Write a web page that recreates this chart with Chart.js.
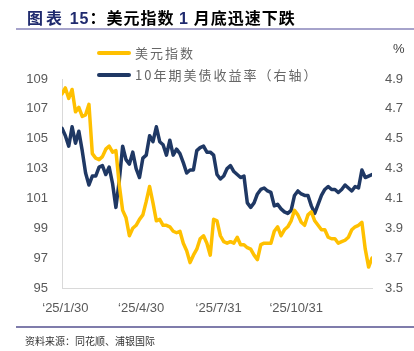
<!DOCTYPE html>
<html>
<head>
<meta charset="utf-8">
<script src="https://cdn.jsdelivr.net/npm/chart.js@4.4.1/dist/chart.umd.min.js"></script>
<style>
  html, body { margin: 0; padding: 0; background: #fff; }
  #wrap { position: relative; width: 414px; height: 351px; overflow: hidden; font-family: "Noto Sans CJK SC", "Liberation Sans", sans-serif; }
  #chartBox { position: absolute; left: 0; top: 0; width: 414px; height: 351px; }
  .title { position: absolute; left: 27px; top: 5px; font-size: 16px; font-weight: bold; color: #000; white-space: nowrap; letter-spacing: 1px; }
  .title .tag { color: #1f2a6e; letter-spacing: 3px; }
  .title .num { color: #1f2a6e; font-family: "Liberation Sans", sans-serif; }
  .rule { position: absolute; left: 16px; width: 398px; height: 2px; }
  .legend { position: absolute; left: 97px; font-size: 13px; color: #666; white-space: nowrap; letter-spacing: 2px; }
  .legend i { display: inline-block; width: 34px; height: 4px; border-radius: 2px; vertical-align: middle; margin-right: 4px; position: relative; top: -1px; }
  .unit { position: absolute; left: 393px; top: 41px; font-size: 13px; color: #404040; font-family: "Liberation Sans", sans-serif; }
  .source { position: absolute; left: 25px; top: 333px; font-size: 10px; color: #333; white-space: nowrap; }
</style>
</head>
<body>
<div id="wrap">
  <div id="chartBox"><canvas id="lineChart"></canvas></div>
  <div class="title"><span class="tag">图表</span> <span class="num">15</span>：美元指数 <span class="num">1</span> 月底迅速下跌</div>
  <div class="rule" style="top:28px;background:#a6a3cb;"></div>
  <div class="legend" style="top:43px;"><i style="background:#ffc000"></i>美元指数</div>
  <div class="legend" style="top:65px;"><i style="background:#1f3864"></i>10年期美债收益率（右轴）</div>
  <div class="unit">%</div>
  <div class="rule" style="top:326px;background:#7f7cab;height:1.5px;"></div>
  <div class="source">资料来源：同花顺、浦银国际</div>
</div>
<script>
// sample dates (every 4 days)
const dates = [
  "2025-01-26", "2025-01-30", "2025-02-03", "2025-02-07", "2025-02-11", "2025-02-15", "2025-02-19", "2025-02-23",
  "2025-02-27", "2025-03-03", "2025-03-07", "2025-03-11", "2025-03-15", "2025-03-19", "2025-03-23", "2025-03-27",
  "2025-03-31", "2025-04-04", "2025-04-08", "2025-04-12", "2025-04-16", "2025-04-20", "2025-04-24", "2025-04-28",
  "2025-05-02", "2025-05-06", "2025-05-10", "2025-05-14", "2025-05-18", "2025-05-22", "2025-05-26", "2025-05-30",
  "2025-06-03", "2025-06-07", "2025-06-11", "2025-06-15", "2025-06-19", "2025-06-23", "2025-06-27", "2025-07-01",
  "2025-07-05", "2025-07-09", "2025-07-13", "2025-07-17", "2025-07-21", "2025-07-25", "2025-07-29", "2025-08-02",
  "2025-08-06", "2025-08-10", "2025-08-14", "2025-08-18", "2025-08-22", "2025-08-26", "2025-08-30", "2025-09-03",
  "2025-09-07", "2025-09-11", "2025-09-15", "2025-09-19", "2025-09-23", "2025-09-27", "2025-10-01", "2025-10-05",
  "2025-10-09", "2025-10-13", "2025-10-17", "2025-10-21", "2025-10-25", "2025-10-29", "2025-11-02", "2025-11-06",
  "2025-11-10", "2025-11-14", "2025-11-18", "2025-11-22", "2025-11-26", "2025-11-30", "2025-12-04", "2025-12-08",
  "2025-12-12", "2025-12-16", "2025-12-20", "2025-12-24", "2025-12-28", "2026-01-01", "2026-01-05", "2026-01-09",
  "2026-01-13", "2026-01-17", "2026-01-21", "2026-01-25", "2026-01-29"
];

// 美元指数 (left axis)
const dollarIndex = [
  108.0, 108.4, 107.7, 108.3, 106.8, 107.1, 106.5, 106.6, 107.3, 104.0, 103.7, 103.6, 103.8, 104.3, 104.5, 104.1,
  104.2, 101.9, 100.2, 99.7, 98.5, 99.0, 99.2, 99.6, 99.9, 100.8, 101.8, 100.7, 99.5, 99.6, 99.2, 99.2,
  99.1, 98.8, 98.7, 98.8, 98.0, 97.5, 96.7, 97.2, 97.6, 98.3, 98.5, 98.0, 97.2, 99.6, 99.5, 98.5,
  98.1, 98.0, 98.1, 98.0, 98.4, 97.9, 97.9, 97.7, 97.6, 97.2, 96.9, 97.9, 98.0, 98.0, 98.0, 98.8,
  99.1, 98.5, 98.9, 99.1, 99.5, 100.2, 99.9, 99.4, 99.2, 99.9, 100.1, 99.5, 99.2, 98.9, 98.9, 98.4,
  98.3, 98.3, 98.0, 98.1, 98.2, 98.4, 98.9, 99.1, 99.2, 99.4, 97.6, 96.4, 97.0
];

// 10年期美债收益率 % (right axis)
const treasury10y = [
  4.57, 4.52, 4.45, 4.58, 4.47, 4.55, 4.42, 4.27, 4.19, 4.25, 4.25, 4.31, 4.32, 4.26, 4.31, 4.20,
  4.04, 4.22, 4.45, 4.36, 4.33, 4.41, 4.30, 4.24, 4.37, 4.39, 4.52, 4.48, 4.58, 4.48, 4.46, 4.39,
  4.49, 4.39, 4.43, 4.40, 4.34, 4.27, 4.29, 4.29, 4.42, 4.44, 4.45, 4.41, 4.41, 4.39, 4.26, 4.23,
  4.25, 4.30, 4.32, 4.28, 4.26, 4.24, 4.25, 4.07, 4.04, 4.07, 4.13, 4.16, 4.17, 4.15, 4.14, 4.05,
  4.06, 4.03, 4.01, 4.00, 4.02, 4.12, 4.15, 4.13, 4.12, 4.12, 4.05, 4.00, 4.06, 4.12, 4.16, 4.18,
  4.16, 4.16, 4.14, 4.16, 4.19, 4.17, 4.15, 4.18, 4.17, 4.29, 4.24, 4.25, 4.26
];

// x-axis tick dates and labels
const tickDates = ["2025-01-30", "2025-04-30", "2025-07-31", "2025-10-31"];
const tickLabels = ["\u201825/1/30", "\u201825/4/30", "\u201825/7/31", "\u201825/10/31"];

function toDay(s) {
  const p = s.split("-").map(Number);
  return Date.UTC(p[0], p[1] - 1, p[2]) / 86400000;
}

const days = dates.map(toDay);
const tickDays = tickDates.map(toDay);
const axisFont = { family: "'Liberation Sans', Arial, sans-serif", size: 13 };
const axisColor = "#595959";
const axisLine = "#d9d9d9";

new Chart(document.getElementById("lineChart"), {
  type: "line",
  data: {
    datasets: [{
      label: "美元指数",
      data: days.map((d, i) => ({ x: d, y: dollarIndex[i] })),
      borderColor: "#ffc000",
      borderWidth: 3.5,
      borderJoinStyle: "round",
      borderCapStyle: "round",
      pointRadius: 0,
      tension: 0,
      yAxisID: "y"
    }, {
      label: "10年期美债收益率（右轴）",
      data: days.map((d, i) => ({ x: d, y: treasury10y[i] })),
      borderColor: "#1f3864",
      borderWidth: 3.5,
      borderJoinStyle: "round",
      borderCapStyle: "round",
      pointRadius: 0,
      tension: 0,
      yAxisID: "y1"
    }]
  },
  options: {
    responsive: true,
    maintainAspectRatio: false,
    animation: false,
    layout: { padding: { top: 79, right: 0, bottom: 0, left: 0 } },
    plugins: {
      legend: { display: false },
      tooltip: { enabled: false }
    },
    scales: {
      x: {
        type: "linear",
        min: days[0],
        max: days[days.length - 1],
        afterBuildTicks: (scale) => {
          scale.ticks = tickDays.map(v => ({ value: v }));
        },
        afterFit: (scale) => { scale.height = 63; },
        grid: { display: false, drawTicks: false },
        border: { display: true, color: axisLine, width: 1 },
        ticks: {
          padding: 13,
          maxRotation: 0,
          autoSkip: false,
          color: axisColor,
          font: axisFont,
          callback: (v) => tickLabels[tickDays.indexOf(v)] ?? ""
        }
      },
      y: {
        position: "left",
        min: 95,
        max: 109,
        afterFit: (scale) => { scale.width = 62; },
        grid: { display: false, drawTicks: false },
        border: { display: true, color: axisLine, width: 1 },
        ticks: { stepSize: 2, padding: 14, color: axisColor, font: axisFont }
      },
      y1: {
        position: "right",
        min: 3.5,
        max: 4.9,
        afterFit: (scale) => { scale.width = 42; },
        grid: { display: false, drawTicks: false },
        border: { display: false },
        ticks: {
          stepSize: 0.2,
          padding: 13,
          color: axisColor,
          font: axisFont,
          callback: (v) => Number(v).toFixed(1)
        }
      }
    }
  }
});
</script>
</body>
</html>
